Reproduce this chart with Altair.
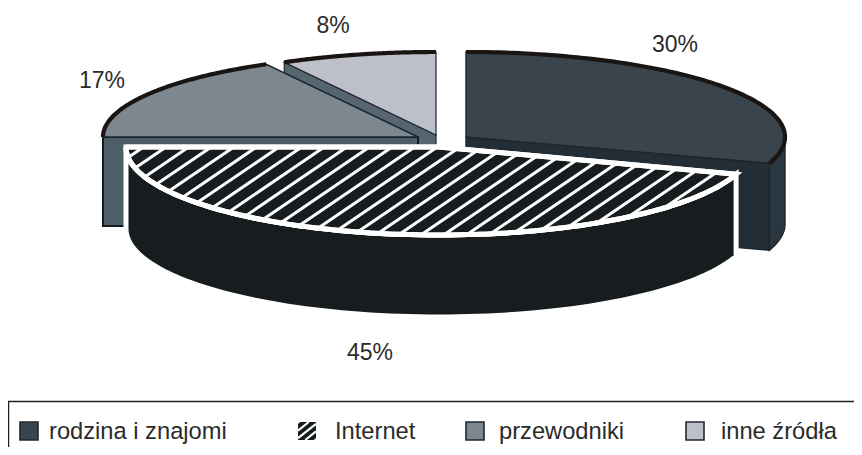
import math
import altair as alt

# ---- values ----
categories = ["rodzina i znajomi", "Internet", "przewodniki", "inne źródła"]
shares = [30, 45, 17, 8]
pct_labels = ["30%", "45%", "17%", "8%"]

top_colors = ["#39444c", "#171c1f", "#7c8790", "#bdbfc9"]
side_colors = ["#232d35", "#171c1f", "#4e5e68", "#56656f"]
outer_color = "#2a3640"
arc_color = "#1a1512"
edge_color = "#1c262d"
text_color = "#2b2b2b"

# exploded slice centres and ellipse radii (cx, cy, a, b, depth)
geom = [
    (466, 137, 319, 85, 87),
    (438.7, 147, 312.7, 88, 82),
    (418, 137, 315, 83, 89),
    (436, 135, 315, 83, 86),
]

W, H = 846, 439


def angles():
    out, acc = [], 0
    for s in shares:
        out.append((acc * 3.6, (acc + s) * 3.6))
        acc += s
    return out


def pt(g, deg, drop=0):
    t = math.radians(deg)
    return (g[0] + g[2] * math.sin(t), g[1] - g[3] * math.cos(t) + drop)


def arc(g, a0, a1, drop=0, n=90):
    return [pt(g, a0 + (a1 - a0) * i / n, drop) for i in range(n + 1)]


def feature(kind, coords):
    return {"type": "Feature", "properties": {},
            "geometry": {"type": kind, "coordinates": coords}}


def shape(points, fill, stroke=None, sw=1.0, join="miter"):
    pts = [list(p) for p in points]
    pts.append(pts[0])
    kw = dict(fill=fill, strokeJoin=join)
    if stroke:
        kw.update(stroke=stroke, strokeWidth=sw)
    else:
        kw.update(strokeWidth=0)
    return alt.Chart(alt.Data(values=[feature("Polygon", [pts])])).mark_geoshape(**kw)


def line(points, stroke, sw, cap="butt"):
    return alt.Chart(alt.Data(values=[feature("LineString", [list(p) for p in points])])).mark_geoshape(
        filled=False, stroke=stroke, strokeWidth=sw, strokeCap=cap)


def clip_line(p, d, poly):
    """Clip the infinite line p + s*d to a convex polygon."""
    area = sum(poly[i][0] * poly[(i + 1) % len(poly)][1] - poly[(i + 1) % len(poly)][0] * poly[i][1]
               for i in range(len(poly)))
    sgn = 1 if area > 0 else -1
    s0, s1 = -1e9, 1e9
    for i in range(len(poly)):
        a, b = poly[i], poly[(i + 1) % len(poly)]
        nx, ny = -(b[1] - a[1]) * sgn, (b[0] - a[0]) * sgn
        num = (p[0] - a[0]) * nx + (p[1] - a[1]) * ny
        den = d[0] * nx + d[1] * ny
        if abs(den) < 1e-12:
            if num < 0:
                return None
            continue
        s = -num / den
        if den > 0:
            s0 = max(s0, s)
        else:
            s1 = min(s1, s)
    if s1 <= s0:
        return None
    return [(p[0] + s0 * d[0], p[1] + s0 * d[1]), (p[0] + s1 * d[0], p[1] + s1 * d[1])]


def hatch(poly, x0, y0, step, slope, sw):
    res = []
    xs = [p[0] for p in poly]
    k0 = int((min(xs) - x0) / step) - 30
    k1 = int((max(xs) - x0) / step) + 30
    for k in range(k0, k1):
        seg = clip_line((x0 + k * step, y0), (1, -slope), poly)
        if seg:
            res.append(line(seg, "#ffffff", sw))
    return res


ang = angles()
layers = []

# 8 % slice
g = geom[3]
a0, a1 = ang[3]
c = (g[0], g[1])
layers.append(shape([pt(g, a0), c, (c[0], c[1] + g[4]), pt(g, a0, g[4])], side_colors[3], edge_color, 1.2))
layers.append(shape([c] + arc(g, a0, a1), top_colors[3], edge_color, 1.2))
layers.append(line(arc(g, a0, a1), arc_color, 4.2))

# 17 % slice
g = geom[2]
a0, a1 = ang[2]
c = (g[0], g[1])
layers.append(shape([pt(g, a0), c, (c[0], c[1] + g[4]), pt(g, a0, g[4])], side_colors[2], "#141a1e", 2))
layers.append(shape([c] + arc(g, a0, a1), top_colors[2], edge_color, 1.4))
layers.append(line(arc(g, a0, a1), arc_color, 4.2))

# 30 % slice
g = geom[0]
a0, a1 = ang[0]
c = (g[0], g[1])
layers.append(shape(arc(g, 90, a1) + arc(g, 90, a1, g[4])[::-1], outer_color, edge_color, 1.4))
layers.append(shape([c, pt(g, a1), pt(g, a1, g[4]), (c[0], c[1] + g[4])], side_colors[0], edge_color, 1.4))
layers.append(shape([c] + arc(g, a0, a1), top_colors[0], edge_color, 1.4))
layers.append(line(arc(g, a0, a1), arc_color, 4.2))

# 45 % slice, hatched
g = geom[1]
a0, a1 = ang[1]
c = (g[0], g[1])
layers.append(shape(arc(g, a0, a1) + arc(g, a0, a1, g[4])[::-1], side_colors[1], "#ffffff", 5))
top = [c] + arc(g, a0, a1)
layers.append(shape(top, top_colors[1], "#ffffff", 5))
layers += hatch(top, 161.7, 150, 22.6, 0.68, 3)
layers.append(shape(top, "transparent", "#ffffff", 5, join="bevel"))

# percentage labels
label_lon = [675, 370, 102, 333]
label_lat = [52, 360, 88, 33]
layers.append(
    alt.Chart(alt.Data(values=[{"t": t, "lon": x, "lat": y} for t, x, y in zip(pct_labels, label_lon, label_lat)]))
    .mark_text(font="Liberation Sans", fontSize=23, color=text_color, align="center", baseline="alphabetic")
    .encode(text="t:N", longitude="lon:Q", latitude="lat:Q")
)

# legend box
layers.append(line([(8.5, 470), (8.5, 401.5), (880, 401.5)], "#222222", 1.5))

swatch_x = [20, 298, 466, 686]
swatch_text_x = [49, 335, 499, 721]
swatch_colors = ["#39444c", "#171c1f", "#7c8790", "#bdbfc9"]
sw_top, sw_size = 422, 18
for i, name in enumerate(categories):
    x = swatch_x[i]
    rect = [(x, sw_top), (x + sw_size, sw_top), (x + sw_size, sw_top + sw_size), (x, sw_top + sw_size)]
    if name == "Internet":
        layers.append(shape(rect, swatch_colors[i]))
        layers += hatch(rect, x + 9, sw_top + 9, 9.5, 0.8, 2.2)
    else:
        layers.append(shape(rect, swatch_colors[i], "#20282e", 1.6))

layers.append(
    alt.Chart(alt.Data(values=[{"t": t, "lon": x, "lat": 439} for t, x in zip(categories, swatch_text_x)]))
    .mark_text(font="Liberation Sans", fontSize=23.7, color=text_color, align="left", baseline="alphabetic")
    .encode(text="t:N", longitude="lon:Q", latitude="lat:Q")
)

chart = (
    alt.layer(*layers)
    .project(type="identity", scale=1, translate=[-8, -8])
    .properties(width=W, height=H, padding=0, autosize=alt.AutoSizeParams(type="none"))
    .configure_view(stroke=None)
)

chart.save("out.html", embed_options={"renderer": "svg", "actions": False})
